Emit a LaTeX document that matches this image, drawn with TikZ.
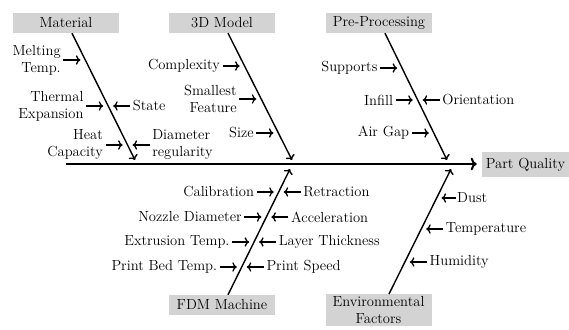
\documentclass[tikz,border=0pt]{standalone}
\usetikzlibrary{arrows.meta}
\definecolor{boxgray}{RGB}{211,211,211}
\begin{document}
\begin{tikzpicture}[x=1pt,y=-1pt,
  every node/.style={font=\fontsize{14.6}{17}\selectfont},
  box/.style={fill=boxgray, minimum width=106pt, minimum height=20pt, inner ysep=2.5pt, inner xsep=4pt, align=center},
  labl/.style={inner sep=2.5pt, anchor=east, align=right},
  labr/.style={inner sep=2.5pt, anchor=west, align=left},
  cause/.style={line width=1.3pt, -{To}},
  branch/.style={line width=1.4pt, -{To}},
  spine/.style={line width=2pt, -{To}}]
\useasboundingbox (0,0) rectangle (569,329);
\begin{scope}
\clip (0,0) rectangle (569,329);
% category boxes
\node[box] (mat) at (66,23) {Material};
\node[box] (mod) at (222,23) {3D Model};
\node[box] (pre) at (379,23) {Pre-Processing};
\node[box] (fdm) at (222,305) {FDM Machine};
\node[box, anchor=north] (env) at (378.5,294) {Environmental\\Factors};
\node[box, minimum width=0pt, minimum height=25pt, inner xsep=4pt] (pq) at (525.5,164.5) {Part Quality};
\end{scope}
% spine
\coordinate (s0) at (66,164);
\draw[spine, shorten >=5pt] (s0) -- (s0 -| pq.west);
% branches
\coordinate (mE) at (135,160);
\coordinate (dE) at (292,160);
\coordinate (pE) at (447,160);
\coordinate (fE) at (290,169);
\coordinate (eE) at (451,169);
\draw[branch] ([xshift=6pt]mat.south) -- (mE);
\draw[branch] ([xshift=6pt]mod.south) -- (dE);
\draw[branch] ([xshift=6pt]pre.south) -- (pE);
\draw[branch] ([xshift=6pt]fdm.north) -- (fE);
\draw[branch] ([xshift=10.5pt]env.north) -- (eE);
% Material causes
\node[labl] (m1) at (63.4,60) {Melting\\Temp.};
\coordinate (m1t) at (80.4,60);
\draw[cause] (m1.east) -- (m1t);
\node[labl] (m2) at (86.2,106) {Thermal\\Expansion};
\coordinate (m2t) at (103.2,106);
\draw[cause] (m2.east) -- (m2t);
\node[labr] (m3) at (130.2,106) {State};
\coordinate (m3t) at (113.2,106);
\draw[cause] (m3.west) -- (m3t);
\node[labl] (m4) at (105.6,145) {Heat\\Capacity};
\coordinate (m4t) at (122.6,145);
\draw[cause] (m4.east) -- (m4t);
\node[labr] (m5) at (149.6,145) {Diameter\\regularity};
\coordinate (m5t) at (132.6,145);
\draw[cause] (m5.west) -- (m5t);
% 3D model causes
\node[labl] (d1) at (222.6,66) {Complexity};
\coordinate (d1t) at (239.6,66);
\draw[cause] (d1.east) -- (d1t);
\node[labl] (d2) at (239.3,99) {Smallest\\Feature};
\coordinate (d2t) at (256.3,99);
\draw[cause] (d2.east) -- (d2t);
\node[labl] (d3) at (256.4,133) {Size};
\coordinate (d3t) at (273.4,133);
\draw[cause] (d3.east) -- (d3t);
% Pre-processing causes
\node[labl] (p1) at (380.1,68) {Supports};
\coordinate (p1t) at (397.1,68);
\draw[cause] (p1.east) -- (p1t);
\node[labl] (p2) at (395.7,100) {Infill};
\coordinate (p2t) at (412.7,100);
\draw[cause] (p2.east) -- (p2t);
\node[labr] (p3) at (439.7,100) {Orientation};
\coordinate (p3t) at (422.7,100);
\draw[cause] (p3.west) -- (p3t);
\node[labl] (p4) at (411.8,133) {Air Gap};
\coordinate (p4t) at (428.8,133);
\draw[cause] (p4.east) -- (p4t);
% FDM machine causes
\node[labl] (f1) at (256.7,192) {Calibration};
\coordinate (f1t) at (273.7,192);
\draw[cause] (f1.east) -- (f1t);
\node[labr] (f2) at (300.7,192) {Retraction};
\coordinate (f2t) at (283.7,192);
\draw[cause] (f2.west) -- (f2t);
\node[labl] (f3) at (244.4,217) {Nozzle Diameter};
\coordinate (f3t) at (261.4,217);
\draw[cause] (f3.east) -- (f3t);
\node[labr] (f4) at (288.4,217) {Acceleration};
\coordinate (f4t) at (271.4,217);
\draw[cause] (f4.west) -- (f4t);
\node[labl] (f5) at (232.1,242) {Extrusion Temp.};
\coordinate (f5t) at (249.1,242);
\draw[cause] (f5.east) -- (f5t);
\node[labr] (f6) at (276.1,242) {Layer Thickness};
\coordinate (f6t) at (259.1,242);
\draw[cause] (f6.west) -- (f6t);
\node[labl] (f7) at (219.8,267) {Print Bed Temp.};
\coordinate (f7t) at (236.8,267);
\draw[cause] (f7.east) -- (f7t);
\node[labr] (f8) at (263.8,267) {Print Speed};
\coordinate (f8t) at (246.8,267);
\draw[cause] (f8.west) -- (f8t);
% Environmental causes
\node[labr, inner xsep=1.5pt] (e1) at (455.5,198) {Dust};
\coordinate (e1t) at (441.6,198);
\draw[cause] (e1.west) -- (e1t);
\node[labr] (e2) at (443.2,229) {Temperature};
\coordinate (e2t) at (426.2,229);
\draw[cause] (e2.west) -- (e2t);
\node[labr] (e3) at (426.9,262) {Humidity};
\coordinate (e3t) at (409.9,262);
\draw[cause] (e3.west) -- (e3t);
\end{tikzpicture}
\end{document}
